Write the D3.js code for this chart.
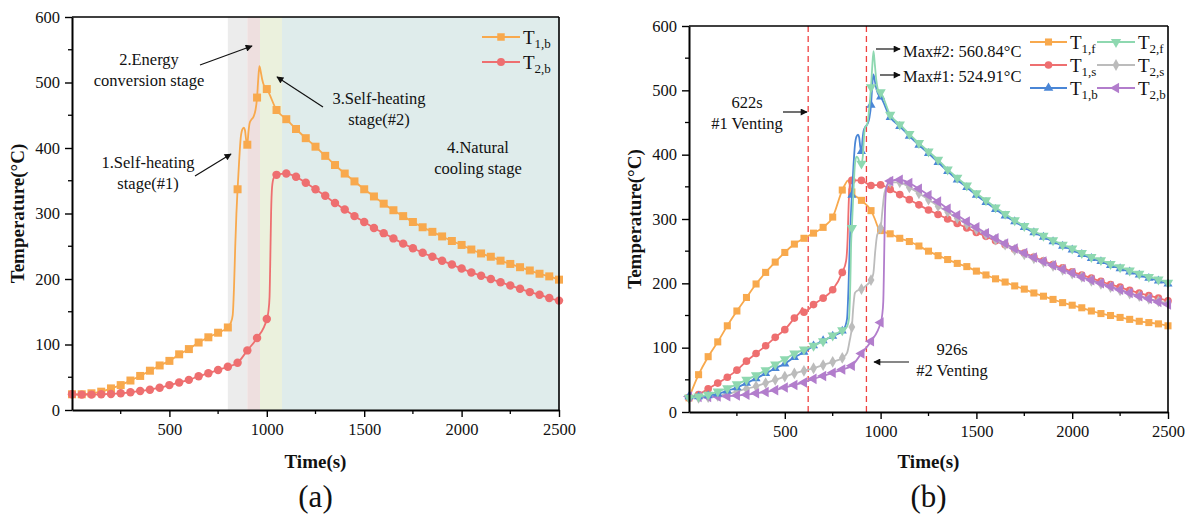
<!DOCTYPE html>
<html>
<head>
<meta charset="utf-8">
<script src="https://cdn.jsdelivr.net/npm/d3@7"></script>
<style>
  html, body { margin: 0; padding: 0; background: #fff; }
  svg { display: block; }
</style>
</head>
<body>
<svg id="chart" width="1190" height="516"></svg>
<script>
// ---- data: temperature (°C) versus time (s) ----
const timeTicks = [500, 1000, 1500, 2000, 2500];
const tempTicks = [0, 100, 200, 300, 400, 500, 600];

// stage boundaries in panel (a), seconds
const stageBounds = [800, 900, 965, 1078, 2500];

// venting moments in panel (b), seconds
const ventTimes = [622, 926];
const maxValues = [524.91, 560.84];

const T1b = [[0,24],[50,24],[100,25.5],[150,28],[200,33],[250,38],[300,45],[350,52],[400,60],[450,68],[500,75],[550,85],[600,93],[650,103],[700,111],[750,118],[800,126],
  [815,133],[825,145],[832,190],[838,250],[844,300],[850,337],[858,380],[866,415],[874,428],[882,431],[888,427],[894,412],[900,405],[906,425],[912,438],[920,443],[932,448],[942,458],[950,477],[956,505],[962,524.91],[968,518],[976,505],[986,495],
  [1000,490],[1050,458],[1100,444],[1150,429],[1200,415],[1250,402],[1300,388],[1350,374],[1400,361],[1450,349],[1500,337],[1550,326],[1600,315],[1650,305],[1700,296],[1750,287],[1800,279],[1850,272],[1900,265],[1950,258],[2000,252],[2050,245],[2100,239],[2150,234],[2200,228],[2250,223],[2300,218],[2350,213],[2400,208],[2450,204],[2500,199]];

const T2b = [[0,24],[50,23.5],[100,23.5],[150,24],[200,24.5],[250,25.5],[300,27],[350,29],[400,31],[450,34],[500,38],[550,42],[600,46],[650,51.5],[700,56],[750,61],[800,66],[850,72],[900,91],[950,110],[1000,139],
  [1008,150],[1014,172],[1018,230],[1022,300],[1027,340],[1035,354],
  [1050,359],[1100,361],[1150,356],[1200,347],[1250,337],[1300,327],[1350,316],[1400,306],[1450,296],[1500,287],[1550,278],[1600,270],[1650,262],[1700,254],[1750,247],[1800,240],[1850,234],[1900,228],[1950,222],[2000,216],[2050,210],[2100,205],[2150,200],[2200,195],[2250,190],[2300,185],[2350,180],[2400,176],[2450,171],[2500,167]];

const T1f = [[0,22],[50,58],[100,86],[150,109],[200,134],[250,157],[300,178],[350,199],[400,217],[450,233],[500,248],[550,261],[600,270],[650,278],[700,287],[750,303],[800,345],
  [815,354],[830,360],[840,352],
  [850,342],[900,329],[950,313],[970,300],[985,288],[1000,282],[1050,277],[1100,270],[1150,265],[1200,258],[1250,250],[1300,243],[1350,237],[1400,231],[1450,226],[1500,219],[1550,213],[1600,207],[1650,202],[1700,196],[1750,191],[1800,185],[1850,180],[1900,175],[1950,170],[2000,166],[2050,162],[2100,157],[2150,153],[2200,150],[2250,147],[2300,144],[2350,141],[2400,139],[2450,137],[2500,134]];

const T1s = [[0,22],[50,27],[100,36],[150,45],[200,54],[250,65],[300,79],[350,91],[400,103],[450,116],[500,128],[550,146],[585,158],[592,162],[600,155],[650,167],[700,177],[750,190],[800,217],
  [820,235],[828,270],[833,320],[838,350],[845,358],
  [850,360],[900,360],[950,352],[1000,353],[1050,346],[1100,338],[1150,330],[1200,322],[1250,314],[1300,307],[1350,300],[1400,293],[1450,286],[1500,279],[1550,273],[1600,266],[1650,260],[1700,253],[1750,247],[1800,241],[1850,235],[1900,229],[1950,224],[2000,218],[2050,213],[2100,208],[2150,203],[2200,198],[2250,194],[2300,189],[2350,185],[2400,181],[2450,177],[2500,173]];

const T2f = [[0,22],[50,24],[100,27],[150,32],[200,37],[250,43],[300,50],[350,57],[400,65],[450,74],[500,82],[550,91],[600,97],[650,103],[700,110],[750,119],[800,127],
  [825,133],[835,145],[842,200],[846,260],
  [850,286],[858,340],[866,385],[874,397],[882,395],[890,388],[900,386],[908,400],[914,430],[920,443],[930,447],[940,470],
  [950,505],[956,535],[963,560.84],[970,540],[978,515],[988,500],
  [1000,497],[1050,462],[1100,447],[1150,432],[1200,418],[1250,405],[1300,392],[1350,377],[1400,364],[1450,352],[1500,340],[1550,329],[1600,318],[1650,308],[1700,298],[1750,289],[1800,281],[1850,274],[1900,267],[1950,260],[2000,254],[2050,247],[2100,241],[2150,236],[2200,230],[2250,225],[2300,220],[2350,215],[2400,210],[2450,206],[2500,201]];

const T2s = [[0,22],[50,22],[100,23],[150,25],[200,28],[250,32],[300,36],[350,40],[400,45],[450,50],[500,55],[550,60],[600,64],[650,68],[700,73],[750,78],[800,84],
  [825,92],[838,110],
  [850,132],[858,165],[866,185],[880,189],[900,191],[930,198],[950,205],[962,215],[972,250],[982,275],
  [1000,286],[1010,315],[1020,340],[1035,352],
  [1050,357],[1100,357],[1150,349],[1200,340],[1250,330],[1300,320],[1350,311],[1400,301],[1450,292],[1500,284],[1550,276],[1600,268],[1650,260],[1700,252],[1750,245],[1800,239],[1850,233],[1900,227],[1950,221],[2000,215],[2050,210],[2100,204],[2150,199],[2200,194],[2250,189],[2300,184],[2350,180],[2400,176],[2450,172],[2500,169]];

// ---- drawing ----
const FONT = "'Liberation Serif', 'Times New Roman', serif";
const svg = d3.select("#chart");
const C = {
  orange: "#f8a94d", red: "#ee6f70", blue: "#4a86d6",
  green: "#8ed8b0", gray: "#bcbcbc", purple: "#b27dcc"
};

function txt(sel) {
  return sel.style("font-family", FONT).style("fill", "#111");
}

function makePanel(box) {
  const x = d3.scaleLinear().domain([0, 2500]).range([box.left, box.right]);
  const y = d3.scaleLinear().domain([0, 600]).range([box.bottom, box.top]);
  return { x, y, box };
}

function drawAxes(p, title) {
  const { x, y, box } = p;
  const g = svg.append("g");
  // minor ticks
  const minorX = d3.range(250, 2500, 500);
  const minorY = d3.range(50, 600, 100);
  g.selectAll(".mx").data(minorX).join("line")
    .attr("x1", d => x(d)).attr("x2", d => x(d))
    .attr("y1", box.bottom).attr("y2", box.bottom + 4)
    .attr("stroke", "#000").attr("stroke-width", 1.3);
  g.selectAll(".my").data(minorY).join("line")
    .attr("x1", box.left - 4).attr("x2", box.left)
    .attr("y1", d => y(d)).attr("y2", d => y(d))
    .attr("stroke", "#000").attr("stroke-width", 1.3);

  const fmt = d3.format("d");
  const xa = g.append("g").attr("transform", `translate(0,${box.bottom})`)
    .call(d3.axisBottom(x).tickValues(timeTicks).tickFormat(fmt).tickSize(7).tickPadding(6).tickSizeOuter(0));
  const ya = g.append("g").attr("transform", `translate(${box.left},0)`)
    .call(d3.axisLeft(y).tickValues(tempTicks).tickFormat(fmt).tickSize(7).tickPadding(5).tickSizeOuter(0));
  [xa, ya].forEach(a => {
    a.attr("font-family", null);
    a.select(".domain").attr("stroke", "#000").attr("stroke-width", 2);
    a.selectAll(".tick line").attr("stroke", "#000").attr("stroke-width", 1.4);
    txt(a.selectAll(".tick text")).style("font-size", "16.5px");
  });
  // frame top and right
  g.append("line").attr("x1", box.left).attr("x2", box.right).attr("y1", box.top).attr("y2", box.top)
    .attr("stroke", "#000").attr("stroke-width", 1.6);
  g.append("line").attr("x1", box.right).attr("x2", box.right).attr("y1", box.top).attr("y2", box.bottom)
    .attr("stroke", "#000").attr("stroke-width", 1.6);

  // axis titles
  const cx = (box.left + box.right) / 2;
  const cy = (box.top + box.bottom) / 2;
  txt(svg.append("text")).attr("x", cx).attr("y", 468).attr("text-anchor", "middle")
    .style("font-size", "19px").style("font-weight", "bold").text("Time(s)");
  txt(svg.append("text")).attr("transform", `translate(${box.left - 48},${cy}) rotate(-90)`)
    .attr("text-anchor", "middle").style("font-size", "19px").style("font-weight", "bold").text("Temperature(°C)");
  txt(svg.append("text")).attr("x", cx).attr("y", 507).attr("text-anchor", "middle")
    .style("font-size", "31px").text(title);
}

function symbolPath(kind, size) {
  const types = { square: d3.symbolSquare, circle: d3.symbolCircle, up: d3.symbolTriangle, down: d3.symbolTriangle, left: d3.symbolTriangle, diamond: d3.symbolDiamond };
  return d3.symbol().type(types[kind]).size(size)();
}
const rot = { down: 180, left: -90 };

function drawSeries(p, data, color, kind, size, width) {
  const { x, y } = p;
  const line = d3.line().x(d => x(d[0])).y(d => y(d[1])).curve(d3.curveMonotoneX);
  svg.append("path").datum(data).attr("d", line)
    .attr("fill", "none").attr("stroke", color).attr("stroke-width", width || 1.8);
  const pts = data.filter(d => d[0] % 50 === 0);
  svg.append("g").selectAll("path").data(pts).join("path")
    .attr("d", symbolPath(kind, size))
    .attr("transform", d => `translate(${x(d[0])},${y(d[1])}) rotate(${rot[kind] || 0})`)
    .attr("fill", color);
}

function legendItem(lx, ly, color, kind, size, sub, len) {
  svg.append("line").attr("x1", lx).attr("x2", lx + len).attr("y1", ly).attr("y2", ly)
    .attr("stroke", color).attr("stroke-width", 2);
  svg.append("path").attr("d", symbolPath(kind, size))
    .attr("transform", `translate(${lx + len / 2},${ly}) rotate(${rot[kind] || 0})`).attr("fill", color);
  const t = txt(svg.append("text")).attr("x", lx + len + 3).attr("y", ly + 7).style("font-size", "19px");
  t.append("tspan").text("T");
  t.append("tspan").style("font-size", "13px").attr("dy", 4).text(sub);
}

function arrow(x1, y1, x2, y2) {
  svg.append("line").attr("x1", x1).attr("y1", y1).attr("x2", x2).attr("y2", y2)
    .attr("stroke", "#111").attr("stroke-width", 1.2).attr("marker-end", "url(#ah)");
}

svg.append("defs").append("marker").attr("id", "ah").attr("viewBox", "0 0 10 10")
  .attr("refX", 9).attr("refY", 5).attr("markerWidth", 9).attr("markerHeight", 7)
  .attr("markerUnits", "userSpaceOnUse").attr("orient", "auto")
  .append("path").attr("d", "M0,0 L10,5 L0,10 z").attr("fill", "#111");

function label(lines, cx, cy, size, anchor) {
  lines.forEach((s, i) => {
    txt(svg.append("text")).attr("x", cx).attr("y", cy + i * 21 + size * 0.33)
      .attr("text-anchor", anchor || "middle").style("font-size", size + "px").text(s);
  });
}

// ---------- panel (a) ----------
const pa = makePanel({ left: 72, right: 559, top: 17, bottom: 410 });
const stageFill = ["#ececec", "#eedfdf", "#ebf1dd", "#dfeceb"];
svg.append("g").selectAll("rect").data(d3.pairs(stageBounds)).join("rect")
  .attr("x", d => pa.x(d[0])).attr("width", d => pa.x(d[1]) - pa.x(d[0]))
  .attr("y", pa.box.top).attr("height", pa.box.bottom - pa.box.top)
  .attr("fill", (d, i) => stageFill[i]);

drawSeries(pa, T1b, C.orange, "square", 64);
drawSeries(pa, T2b, C.red, "circle", 56);
drawAxes(pa, "(a)");

legendItem(482, 37, C.orange, "square", 56, "1,b", 38);
legendItem(482, 62, C.red, "circle", 50, "2,b", 38);

label(["2.Energy", "conversion stage"], 149, 60, 16.5);
arrow(200, 65, 252, 46);
label(["1.Self-heating", "stage(#1)"], 148, 163, 16.5);
arrow(195, 176, 231, 154);
label(["3.Self-heating", "stage(#2)"], 379, 99, 16.5);
arrow(323, 107, 277, 77);
label(["4.Natural", "cooling stage"], 478, 148, 16.5);

// ---------- panel (b) ----------
const pb = makePanel({ left: 689, right: 1168, top: 26, bottom: 412 });

// venting instants
svg.append("g").selectAll("line").data(ventTimes).join("line")
  .attr("x1", d => pb.x(d)).attr("x2", d => pb.x(d))
  .attr("y1", pb.box.top).attr("y2", pb.box.bottom)
  .attr("stroke", "#f0403f").attr("stroke-width", 1.3).attr("stroke-dasharray", "6,4");

drawSeries(pb, T1f, C.orange, "square", 50);
drawSeries(pb, T1s, C.red, "circle", 46);
drawSeries(pb, T2s, C.gray, "diamond", 40);
drawSeries(pb, T2b, C.purple, "left", 48);
drawSeries(pb, T1b, C.blue, "up", 36);
drawSeries(pb, T2f, C.green, "down", 46);
drawAxes(pb, "(b)");

legendItem(1030, 42, C.orange, "square", 50, "1,f", 37);
legendItem(1030, 65, C.red, "circle", 46, "1,s", 37);
legendItem(1030, 88, C.blue, "up", 40, "1,b", 37);
legendItem(1097, 42, C.green, "down", 46, "2,f", 38);
legendItem(1097, 65, C.gray, "diamond", 40, "2,s", 38);
legendItem(1097, 88, C.purple, "left", 48, "2,b", 38);

label([ventTimes[0] + "s", "#1 Venting"], 747, 103, 16.5);
arrow(783, 112, 807, 112);
label([ventTimes[1] + "s", "#2 Venting"], 952, 350, 16.5);
arrow(909, 362, 874, 362);
label(["Max#2: " + maxValues[1].toFixed(2) + "°C"], 903, 52, 16.5, "start");
arrow(876, 49, 900, 49);
label(["Max#1: " + maxValues[0].toFixed(2) + "°C"], 903, 77, 16.5, "start");
arrow(880, 75, 900, 75);
</script>
</body>
</html>
